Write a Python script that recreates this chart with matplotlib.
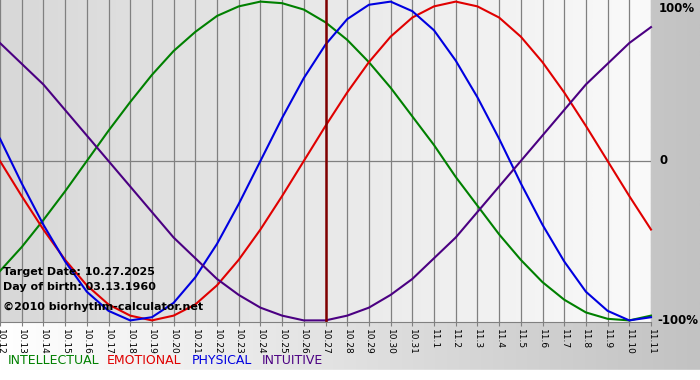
import matplotlib
matplotlib.use('Agg')
import matplotlib.pyplot as plt
import numpy as np
from matplotlib.colors import LinearSegmentedColormap

dates = ['10.12', '10.13', '10.14', '10.15', '10.16', '10.17', '10.18', '10.19', '10.20',
         '10.21', '10.22', '10.23', '10.24', '10.25', '10.26', '10.27', '10.28', '10.29',
         '10.30', '10.31', '11.1', '11.2', '11.3', '11.4', '11.5', '11.6', '11.7', '11.8',
         '11.9', '11.10', '11.11']
target_idx = 15

physical = [0.14, -0.14, -0.40, -0.63, -0.82, -0.94, -1.00, -0.98, -0.89, -0.73, -0.52,
            -0.27, 0.00, 0.27, 0.52, 0.73, 0.89, 0.98, 1.00, 0.94, 0.82, 0.63, 0.40, 0.14,
            -0.14, -0.40, -0.63, -0.82, -0.94, -1.00, -0.98]
emotional = [0.00, -0.22, -0.43, -0.62, -0.78, -0.90, -0.97, -1.00, -0.97, -0.90, -0.78,
             -0.62, -0.43, -0.22, 0.00, 0.22, 0.43, 0.62, 0.78, 0.90, 0.97, 1.00, 0.97, 0.90,
             0.78, 0.62, 0.43, 0.22, 0.00, -0.22, -0.43]
intellectual = [-0.69, -0.54, -0.37, -0.19, 0.00, 0.19, 0.37, 0.54, 0.69, 0.81, 0.91, 0.97,
                1.00, 0.99, 0.95, 0.87, 0.76, 0.62, 0.46, 0.28, 0.10, -0.10, -0.28, -0.46,
                -0.62, -0.76, -0.87, -0.95, -0.99, -1.00, -0.97]
intuitive = [0.74, 0.61, 0.48, 0.32, 0.16, 0.00, -0.16, -0.32, -0.48, -0.61, -0.74, -0.84,
             -0.92, -0.97, -1.00, -1.00, -0.97, -0.92, -0.84, -0.74, -0.61, -0.48, -0.32,
             -0.16, 0.00, 0.16, 0.32, 0.48, 0.61, 0.74, 0.84]

series = [('INTELLECTUAL', intellectual, '#008000'),
          ('EMOTIONAL', emotional, '#e00000'),
          ('PHYSICAL', physical, '#0000e0'),
          ('INTUITIVE', intuitive, '#4b0082')]

W, H = 700, 380
fig = plt.figure(figsize=(W/100, H/100), dpi=100)

# figure background: horizontal gradient white -> gray
bg = fig.add_axes([0, 0, 1, 1], zorder=-10)
bg_cmap = LinearSegmentedColormap.from_list('bg', ['#ffffff', '#c2c2c2'])
bg.imshow(np.linspace(0, 1, 256)[None, :], cmap=bg_cmap, aspect='auto', extent=(0, 1, 0, 1))
bg.add_patch(plt.Rectangle((0, 0), 1, 10/H, color='white'))
bg.set_xlim(0, 1)
bg.set_ylim(0, 1)
bg.axis('off')

ax = fig.add_axes([0, 1 - 322/H, 651/W, 322/H])
x = np.arange(len(dates))
ax.set_xlim(0, len(dates) - 1)
ax.set_ylim(-1.01, 1.01)

plot_cmap = LinearSegmentedColormap.from_list('pl', ['#d8d8d8', '#fafafa'])
ax.imshow(np.linspace(0, 1, 256)[None, :], cmap=plot_cmap, aspect='auto',
          extent=(0, len(dates) - 1, -1.01, 1.01), zorder=0)

for xi in x:
    ax.axvline(xi, color='#808080', lw=0.9, zorder=1)
ax.axhline(0, color='#808080', lw=0.9, zorder=1)

for name, vals, col in series:
    ax.plot(x, vals, color=col, lw=1.5, zorder=3, clip_on=False)

ax.axvline(target_idx, color='#800000', lw=1.8, zorder=4)

for s in ['top', 'left', 'right']:
    ax.spines[s].set_visible(False)
ax.spines['bottom'].set_color('#808080')
ax.spines['bottom'].set_zorder(5)

ax.set_xticks(x)
ax.set_xticklabels(dates, rotation=270, fontsize=6.5)
ax.tick_params(axis='x', length=3, color='#808080', pad=2)
ax.set_yticks([])

tr = ax.get_yaxis_transform()
xl = 1 + 8/651
ax.text(xl, 1.0, '100%', transform=tr, ha='left', va='top', fontsize=8.5, fontweight='bold')
ax.text(xl, 0, '0', transform=tr, ha='left', va='center', fontsize=8.5, fontweight='bold')
ax.text(1 + 6/651, -1.0, '-100%', transform=tr, ha='left', va='center', fontsize=8.5,
        fontweight='bold')

info = ['Target Date: 10.27.2025', 'Day of birth: 03.13.1960']
ax.text(3/651, 1 - 272/322, info[0], transform=ax.transAxes, fontsize=8,
        fontweight='bold', va='center', zorder=6)
ax.text(3/651, 1 - 287/322, info[1], transform=ax.transAxes, fontsize=8,
        fontweight='bold', va='center', zorder=6)
ax.text(3/651, 1 - 307/322, '\u00a92010 biorhythm-calculator.net', transform=ax.transAxes,
        fontsize=8, fontweight='bold', va='center', zorder=6)

# legend as coloured words
lx = [8, 107, 192, 262]
for (name, vals, col), px in zip(series, lx):
    fig.text(px/W, 1 - 361/H, name, color=col, fontsize=9, va='center', ha='left')

fig.savefig('out.png', dpi=100)
